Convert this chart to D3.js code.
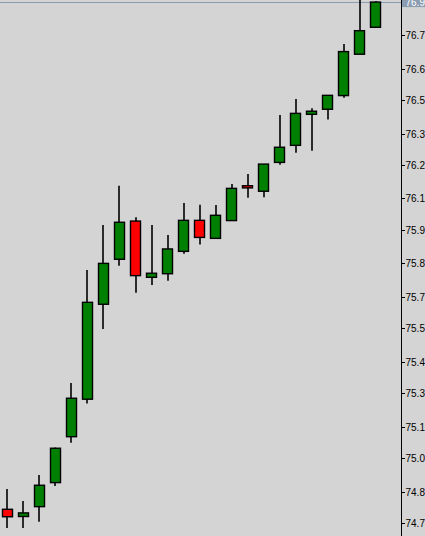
<!DOCTYPE html>
<html>
<head>
<meta charset="utf-8">
<script src="https://cdn.jsdelivr.net/npm/d3@7/dist/d3.min.js"></script>
<style>
  html, body { margin: 0; padding: 0; background: #d4d4d4; }
  svg { display: block; }
</style>
</head>
<body>
<svg id="chart" width="425" height="536"></svg>
<script>
// ---- data ----
const bars = ["1","2","3","4","5","6","7","8","9","10","11","12","13","14","15","16","17","18","19","20","21","22","23","24"];
const opens  = [74.817,74.787,74.828,74.928,75.119,75.275,75.670,75.857,76.016,75.782,75.797,75.890,76.019,75.944,76.018,76.163,76.140,76.260,76.331,76.460,76.481,76.538,76.710,76.822];
const highs  = [74.901,74.852,74.960,75.074,75.342,75.812,76.000,76.163,76.032,76.000,75.958,76.091,76.084,76.083,76.170,76.212,76.253,76.457,76.524,76.485,76.539,76.753,76.990,76.930];
const lows   = [74.739,74.739,74.765,74.914,75.094,75.257,75.567,75.830,75.718,75.750,75.768,75.880,75.918,75.943,76.018,76.113,76.115,76.250,76.300,76.309,76.438,76.529,76.710,76.822];
const closes = [74.786,74.802,74.917,75.071,75.279,75.678,75.840,76.011,75.789,75.799,75.900,76.019,75.948,76.040,76.152,76.154,76.253,76.323,76.464,76.473,76.539,76.721,76.808,76.927];
const tickLabels = ["76.79","76.65","76.52","76.38","76.25","76.11","75.98","75.84","75.7","75.57","75.43","75.30","75.16","75.03","74.89","74.76"];
const currentPrice = 76.927;
const currentLabel = "76.93";

const W = 425, H = 536;
const axisX = 401;
const svg = d3.select("#chart");

const y = d3.scaleLinear().domain([74.76, 76.79]).range([523, 35]);
const x = d3.scaleBand().domain(bars).range([-0.5, 383.5]).paddingInner(0.33).paddingOuter(0.165);

const data = bars.map((b, i) => ({ b, o: opens[i], h: highs[i], l: lows[i], c: closes[i] }));

svg.append("rect").attr("width", W).attr("height", H).attr("fill", "#d4d4d4");

svg.append("defs").append("clipPath").attr("id", "plot")
  .append("rect").attr("x", 0).attr("y", 0).attr("width", axisX).attr("height", H);

const plot = svg.append("g").attr("clip-path", "url(#plot)");

// current price line
plot.append("line")
  .attr("x1", 0).attr("x2", axisX)
  .attr("y1", Math.round(y(currentPrice)) + 0.5).attr("y2", Math.round(y(currentPrice)) + 0.5)
  .attr("stroke", "#8c9cb0").attr("stroke-width", 1);

const g = plot.selectAll("g.candle").data(data).join("g").attr("class", "candle");

g.append("line")
  .attr("x1", d => Math.round(x(d.b) + x.bandwidth() / 2))
  .attr("x2", d => Math.round(x(d.b) + x.bandwidth() / 2))
  .attr("y1", d => y(d.h))
  .attr("y2", d => y(d.l))
  .attr("stroke", "#000").attr("stroke-width", 1.6);

g.append("rect")
  .attr("x", d => Math.round(x(d.b)) + 0.5)
  .attr("width", Math.round(x.bandwidth()) - 1)
  .attr("y", d => y(Math.max(d.o, d.c)))
  .attr("height", d => Math.max(1, Math.abs(y(d.o) - y(d.c))))
  .attr("fill", d => d.c >= d.o ? "#008000" : "#ff0000")
  .attr("stroke", "#000").attr("stroke-width", 1.4);

// right axis
svg.append("line")
  .attr("x1", axisX + 0.5).attr("x2", axisX + 0.5)
  .attr("y1", 0).attr("y2", H)
  .attr("stroke", "#000").attr("stroke-width", 1);

const ticks = svg.append("g");
tickLabels.forEach(t => {
  const ty = Math.round(y(+t)) + 0.5;
  ticks.append("line").attr("x1", axisX).attr("x2", axisX + 4)
    .attr("y1", ty).attr("y2", ty).attr("stroke", "#000");
  ticks.append("text").attr("x", axisX + 4.5).attr("y", ty)
    .attr("dy", "0.38em")
    .attr("font-family", "'Liberation Sans', Arial, sans-serif")
    .attr("font-size", 10).attr("fill", "#000")
    .text(t);
});

// current price label
const cy = y(currentPrice);
svg.append("rect").attr("x", axisX + 1).attr("y", cy - 6).attr("width", W - axisX).attr("height", 11)
  .attr("fill", "#8c9cb0");
svg.append("text").attr("x", axisX + 4.5).attr("y", cy)
  .attr("dy", "0.35em")
  .attr("font-family", "'Liberation Sans', Arial, sans-serif")
  .attr("font-size", 10).attr("fill", "#ffffff")
  .text(currentLabel);
</script>
</body>
</html>
